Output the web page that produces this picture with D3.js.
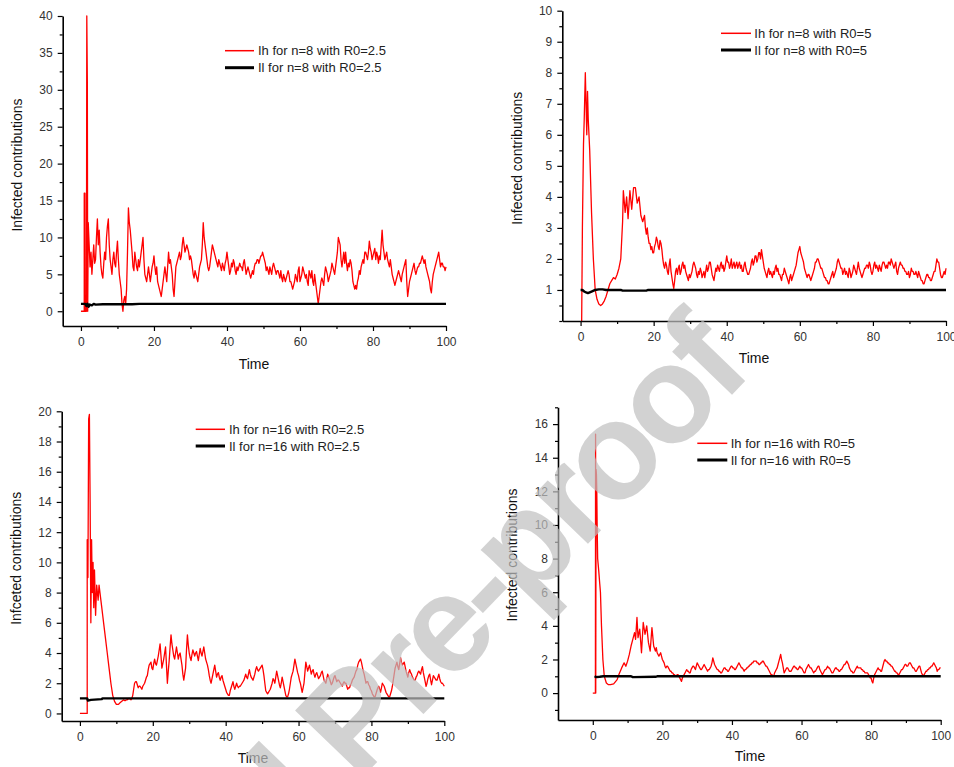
<!DOCTYPE html>
<html>
<head>
<meta charset="utf-8">
<script src="https://cdn.jsdelivr.net/npm/d3@7"></script>
<style>
  html, body { margin: 0; padding: 0; background: #fff; }
  svg { display: block; }
  text { font-family: "Liberation Sans", Arial, Helvetica, sans-serif; }
</style>
</head>
<body>
<svg id="fig" width="954" height="767"></svg>
<script>
// ---------------------------------------------------------------
// Simulated infected contributions, Ih (red) and Il (black).
// Each Ih series = an explicit [time, value] head (the early spike)
// followed by values sampled every STEP time units from bodyStart
// (one row = 5 time units).
// ---------------------------------------------------------------
const STEP = 0.25;

// n = 8, R0 = 2.5
const ihHead_n8_r25 = [[0,0],[0.9,0],[0.9,16],[1.1,16],[1.15,0],[1.5,0],[1.6,40],[1.75,31],[1.85,0],[2.0,12],[2.25,9]];
const ihBodyStart_n8_r25 = 2.5;
const ihBody_n8_r25 = [
  6,8,5,7,9,6.5,7,10,12.5,9,11,8,6,5,4.5,6.5,8,7,10,11.5,
  12.5,9,7,6,5,7,8,6.5,6,8,9.5,7,5,4,3,1,0,1.5,2,1,
  3,8,14,12,11,9.5,8,6,5.5,8,7,6,5.5,7,6,7,8,9,10,7,
  5,4.5,4,5,6,5,4,5,6,6.5,7.5,6,5,6,4,3.5,3,2.5,2,3,
  4,5,6,5,4,6,8,6.5,7,6,5,3,2,4,6,6.5,7,7.5,8,7,
  7.5,9,10,9,8,8.5,9,8.5,8,7,7.5,7,6,5,4.5,5.5,5,4.5,4,5,
  6,6.5,7,9,12,10,9,8,7,6,5.5,6,7,8,9,8.5,8,7.5,7,6.5,
  6,7,6.5,6,5.5,6.5,6,5.5,6.5,7,8,7,6,5,5.5,6.5,6,7,6.5,5.5,
  5,6,5.5,6,6.5,6,6,5.5,6.5,7,6,5,5.5,6,5.5,5,4.5,5,5.5,5,
  6,6.5,6.5,7,7,6.5,7,7.5,7.5,8,7.5,7,6.5,5.5,6,5.5,5,6,5.5,5,
  6,6.5,6,5.5,5,5.5,5.5,5,4.5,5.5,4.5,4,5,4.5,4,4.5,5,5.5,5,4,
  4,3.5,3,3.5,4,5,4.5,4,5.5,6,4,4.5,5,6,5.5,5,4.5,5,4,3.5,
  5.5,5,4.5,5.5,4,3.5,5,4,3,2,1,2,3,4,4.5,4,3.5,5,6,5.5,
  5,4,4.5,5,5.5,6.5,6,5.5,5,6,7,8,10,9.5,9,7,6,7,8,6.5,
  8,6.5,5.5,6.5,6,7,6.5,5.5,4,3.5,3,3.5,3,4,4.5,5.5,5,6,6.5,7,
  6.5,8,8,7.5,7,8,9.5,8.5,8,7,7.5,8,8.5,7,8,7.5,6.5,7.5,7,9,
  11,9,8,7,7.5,8,7,6.5,6,7,6,5,4.5,4,3.5,4,4.5,5,5.5,5,
  4.5,4,5,5.5,6,6.5,7,4,2,3,4,4.5,5,5.5,6,6.5,5.5,5,5.5,6,
  6,6.5,6.5,7,7.5,7,6.5,7,6,5.5,5,4.5,4,3,2.5,4,5,5.5,6,6.5,
  7,7.5,8,7,6,6.5,6.5,6,6,5.5,6
];
const il_n8_r25 = [[0,1],[1.2,1],[1.5,0.7],[1.8,1],[2.1,0.6],[2.4,0.9],[3,0.8],[3.5,1],[4,0.9],[6,0.95],[10,0.95],[14,0.95],[16,1],[100,1]];

// n = 8, R0 = 5
const ihHead_n8_r5 = [[0.3,0],[0.5,3],[0.8,5.7],[1,6.5],[1.3,8],[1.5,7],[1.7,6],[1.9,7.4],[2.1,6.5],[2.5,5.5],[3,3.5],[3.5,2],[4,1],[4.5,0.7],[5,0.55],[5.5,0.5],[6,0.55],[6.5,0.65],[7,0.8],[7.5,1.0],[8,1.2],[8.5,1.3],[9,1.4],[9.5,1.35],[10,1.5],[10.5,1.7],[11,2],[11.5,3.2],[11.7,4.2],[12.2,3.5],[12.6,4.0],[13,3.3],[13.5,4.2],[14,3.6],[14.5,4.3],[15,4.3],[15.5,3.8],[16,4.0],[16.5,3.4],[17,3.2]];
const ihBodyStart_n8_r5 = 17.5;
const ihBody_n8_r5 = [
  3.4,3.0,2.8,3.0,2.7,2.5,2.5,2.3,2.4,2.2,2.2,2.4,2.5,2.7,2.6,2.4,2.3,2.6,2.5,2.3,
  2.0,1.8,1.7,1.9,1.8,1.6,1.5,1.8,2.0,1.6,1.4,1.2,1.05,1.3,1.6,1.7,1.5,1.7,1.8,1.5,
  1.6,1.8,1.9,1.7,1.8,1.6,1.5,1.4,1.3,1.5,1.4,1.5,1.6,1.8,1.9,1.8,1.7,1.5,1.4,1.6,
  1.5,1.7,1.6,1.4,1.5,1.6,1.4,1.6,1.8,1.6,1.7,1.9,1.9,1.7,1.5,1.4,1.3,1.5,1.7,1.6,
  1.8,1.7,1.6,1.8,1.9,1.7,1.8,1.6,1.7,1.9,2.1,1.9,1.9,1.7,1.8,2.0,1.7,1.8,1.9,1.7,
  1.8,1.9,1.7,1.8,1.9,1.7,1.8,1.6,1.6,1.8,1.9,1.7,1.6,1.5,1.5,1.6,1.7,1.9,2.0,1.8,
  1.9,2.1,2.1,1.9,2.0,2.2,2.2,2.0,2.3,2.1,1.9,1.7,1.6,1.5,1.4,1.6,1.7,1.5,1.6,1.5,
  1.4,1.6,1.5,1.7,1.8,1.6,1.7,1.5,1.5,1.4,1.3,1.5,1.5,1.7,1.6,1.5,1.4,1.3,1.2,1.4,
  1.5,1.3,1.4,1.5,1.6,1.7,1.8,2.0,2.2,2.3,2.4,2.2,2.1,2.0,1.9,1.7,1.6,1.5,1.4,1.5,
  1.5,1.4,1.3,1.4,1.5,1.6,1.7,1.9,1.9,2.0,2.0,1.9,1.8,1.7,1.7,1.6,1.5,1.4,1.4,1.3,
  1.3,1.2,1.2,1.3,1.4,1.5,1.6,1.4,1.5,1.6,1.7,1.9,2.0,1.9,1.8,1.7,1.7,1.5,1.6,1.7,
  1.5,1.6,1.5,1.4,1.7,1.6,1.4,1.5,1.6,1.8,1.7,1.6,1.5,1.7,1.9,1.7,1.6,1.5,1.4,1.5,
  1.6,1.7,1.7,1.8,1.8,1.7,1.9,1.8,1.6,1.5,1.6,1.8,1.9,1.7,1.8,1.7,1.6,1.8,1.7,1.6,
  1.8,1.9,1.9,1.8,1.7,1.8,1.7,1.9,1.9,1.8,2.0,1.9,1.8,1.7,1.8,1.9,1.6,1.5,1.7,1.8,
  1.9,1.8,1.8,1.7,1.7,1.6,1.6,1.5,1.5,1.6,1.4,1.5,1.7,1.6,1.6,1.5,1.5,1.6,1.5,1.4,
  1.6,1.5,1.4,1.3,1.3,1.2,1.2,1.3,1.4,1.5,1.5,1.4,1.4,1.3,1.3,1.4,1.5,1.6,1.6,1.8,
  2.0,1.9,1.9,1.7,1.5,1.4,1.4,1.5,1.6,1.5,1.7
];
const il_n8_r5 = [[0,1.0],[0.5,1.0],[1,0.95],[1.5,0.92],[2,0.9],[3,0.95],[4,1.0],[5,1.02],[6,1.02],[7,1.0],[11,1.0],[11.5,0.98],[18,0.98],[18.5,1.0],[100,1.0]];

// n = 16, R0 = 2.5
const ihHead_n16_r25 = [[0,0],[2.0,0],[2.0,11.5],[2.2,9],[2.4,19.5],[2.6,19.8],[2.8,14],[3.0,6],[3.2,11.5],[3.4,8],[3.6,10],[3.8,7],[4.0,9.5],[4.3,6.5],[4.6,8.5],[5.0,7.5],[5.25,8.5]];
const ihBodyStart_n16_r25 = 5.5;
const ihBody_n16_r25 = [
  8,7.5,7,6.5,6,5.5,5,4.5,4,3.5,3,2.5,2,1.6,1.2,1.0,0.8,0.7,0.6,0.6,
  0.6,0.65,0.7,0.75,0.8,0.85,0.9,0.85,0.85,0.9,0.9,0.95,1.0,0.95,0.9,1.0,1.2,1.6,2.0,2.1,
  2.1,1.9,1.7,1.8,1.8,1.7,1.6,1.8,1.9,2.0,2.2,2.4,2.5,2.9,3.2,3.3,3.4,3.0,2.9,3.3,
  3.6,3.3,3.2,3.5,3.8,4.2,4.6,3.8,3.0,3.3,3.6,4.0,4.4,3.2,2.0,2.8,3.5,4.4,5.2,4.6,
  4.2,3.8,3.6,4.0,4.4,4.0,3.6,3.9,4.0,3.6,3.2,2.6,2.2,2.6,3.0,4.2,5.2,4.5,4.0,3.7,
  3.5,3.9,4.2,4.0,3.8,4.0,4.1,3.8,3.5,3.9,4.3,4.0,3.8,4.1,4.4,4.0,3.6,3.4,3.2,2.9,
  2.5,2.2,2.0,2.3,2.6,2.9,3.2,2.8,2.4,2.6,2.7,2.4,2.2,2.4,2.5,2.2,2.0,1.8,1.6,1.4,
  1.3,1.2,1.2,1.5,1.7,1.9,2.1,1.8,1.6,1.8,2.0,1.8,1.7,1.8,1.8,1.9,2.0,2.1,2.2,2.4,
  2.6,2.4,2.3,2.6,2.9,2.6,2.4,2.3,2.2,2.4,2.6,2.9,3.1,2.9,2.8,2.9,3.0,3.1,3.2,2.9,
  2.5,2.0,1.5,1.4,1.3,1.4,1.5,1.6,1.8,2.0,2.3,2.2,2.0,2.4,2.8,2.5,2.2,1.9,1.7,2.0,
  2.4,2.1,1.8,1.5,1.2,1.1,1.1,1.3,1.6,2.0,2.4,2.6,2.8,3.2,3.6,3.3,3.0,2.7,2.5,2.2,
  2.0,1.7,1.4,1.7,2.0,2.7,3.4,3.1,2.8,3.0,3.2,2.9,2.6,2.8,2.9,2.6,2.4,2.6,2.7,2.5,
  2.3,2.4,2.5,2.7,2.8,2.5,2.2,2.1,2.0,2.3,2.6,2.4,2.3,2.1,1.9,2.0,2.2,2.4,2.5,2.3,
  2.1,2.2,2.2,2.1,2.0,1.9,1.8,2.0,2.1,2.0,2.0,1.8,1.6,1.7,1.7,1.9,2.0,2.2,2.3,2.4,
  2.6,2.8,2.9,3.2,3.4,3.5,3.6,3.4,3.1,2.8,2.6,2.3,2.0,2.1,2.1,1.9,1.8,1.6,1.5,1.3,
  1.2,1.1,1.1,1.3,1.5,1.7,1.8,1.6,1.4,1.7,2.0,1.9,1.8,1.6,1.4,1.3,1.2,1.1,1.1,1.3,
  1.5,1.8,2.2,2.6,3.0,3.2,3.4,3.1,2.9,3.3,3.7,3.4,3.2,3.3,3.4,3.1,2.8,2.6,2.4,2.7,
  2.9,2.7,2.6,2.4,2.3,2.2,2.2,2.4,2.5,2.7,2.8,2.7,2.6,2.9,3.1,2.7,2.4,2.1,1.8,2.0,
  2.3,2.5,2.6,2.2,1.9,2.2,2.5,2.4,2.3,2.2,2.2,2.4,2.6,2.3,2.1,2.0,2.0,1.9,1.8
];
const il_n16_r25 = [[0,1.0],[2.0,1.0],[2.2,0.85],[3,0.9],[6,0.95],[6.2,1.0],[100,1.0]];

// n = 16, R0 = 5
const ihHead_n16_r5 = [[0,0],[0.75,0],[0.8,15.4],[0.85,0],[0.95,13.3],[1.05,13],[1.15,12],[1.25,10],[1.4,8],[1.7,7.3],[2.0,6.5],[2.2,6],[2.5,4],[2.9,2],[3.3,1],[3.9,0.6],[4.5,0.5],[5.1,0.5],[6,0.55],[7,0.8],[7.5,1.1],[8.3,1.5],[9,1.8],[9.5,1.6],[10,1.9],[10.5,2.3],[11,2.8],[11.5,3.2],[12,3.6],[12.3,3.2],[12.7,4.5],[13,3.3],[13.5,3.8],[14,2.4],[14.5,4.2],[15,3.5],[15.5,4.0],[16,3.0],[16.5,2.5],[17,3.9],[17.5,2.8],[18,2.5],[18.25,2.7]];
const ihBodyStart_n16_r5 = 18.5;
const ihBody_n16_r5 = [
  2.4,2.3,2.2,2.3,2.4,2.2,2.0,1.9,1.8,1.6,1.5,1.6,1.6,1.5,1.4,1.3,1.3,1.2,1.2,1.1,
  1.1,1.0,1.0,1.1,1.1,1.0,0.9,0.8,0.7,0.9,1.0,1.1,1.2,1.3,1.4,1.3,1.3,1.2,1.2,1.4,
  1.5,1.6,1.6,1.5,1.4,1.6,1.8,1.7,1.6,1.5,1.4,1.4,1.5,1.6,1.7,1.6,1.5,1.4,1.3,1.4,
  1.4,1.5,1.6,1.8,2.1,1.9,1.7,1.6,1.5,1.4,1.4,1.3,1.3,1.2,1.2,1.3,1.4,1.5,1.5,1.4,
  1.4,1.3,1.3,1.4,1.5,1.6,1.6,1.5,1.5,1.4,1.4,1.5,1.6,1.7,1.8,1.7,1.6,1.5,1.5,1.4,
  1.3,1.4,1.4,1.5,1.5,1.6,1.6,1.7,1.7,1.8,1.8,1.9,1.9,1.9,1.9,1.8,1.8,1.7,1.7,1.8,
  1.8,1.9,1.9,1.8,1.7,1.6,1.6,1.5,1.4,1.3,1.2,1.1,1.1,1.0,1.0,1.2,1.3,1.4,1.5,1.7,
  1.9,2.1,2.3,2.0,1.8,1.5,1.2,1.3,1.4,1.5,1.5,1.4,1.3,1.3,1.3,1.4,1.5,1.6,1.6,1.5,
  1.5,1.4,1.4,1.5,1.6,1.5,1.5,1.4,1.3,1.2,1.2,1.4,1.5,1.6,1.7,1.6,1.5,1.5,1.4,1.3,
  1.2,1.3,1.3,1.4,1.5,1.6,1.6,1.4,1.3,1.2,1.1,1.2,1.3,1.4,1.4,1.5,1.6,1.5,1.5,1.4,
  1.3,1.2,1.2,1.3,1.4,1.5,1.5,1.4,1.4,1.3,1.3,1.4,1.4,1.5,1.6,1.7,1.7,1.8,1.9,1.8,
  1.7,1.5,1.4,1.3,1.3,1.2,1.2,1.3,1.4,1.5,1.6,1.5,1.5,1.5,1.5,1.4,1.4,1.3,1.3,1.2,
  1.2,1.2,1.2,1.1,1.0,0.9,0.9,0.7,0.6,0.9,1.1,1.2,1.3,1.4,1.5,1.4,1.4,1.3,1.3,1.5,
  1.7,1.9,2.0,1.9,1.9,1.8,1.8,1.7,1.7,1.6,1.6,1.5,1.4,1.3,1.3,1.2,1.2,1.1,1.1,1.2,
  1.3,1.4,1.4,1.5,1.6,1.7,1.7,1.6,1.6,1.7,1.8,1.8,1.7,1.6,1.5,1.5,1.4,1.3,1.3,1.4,
  1.5,1.6,1.6,1.4,1.2,1.1,1.0,1.1,1.2,1.3,1.3,1.4,1.4,1.5,1.5,1.6,1.6,1.7,1.8,1.7,
  1.6,1.5,1.3,1.4,1.4,1.5,1.5
];
const il_n16_r5 = [[0.5,1.0],[1,0.95],[2,0.97],[3,1.0],[11,1.0],[11.5,0.95],[18,0.97],[18.5,1.0],[100,1.0]];

// Axis tick values and legend / axis texts
const xTicks = [0, 20, 40, 60, 80, 100];
const yTicks_n8_r25 = [0, 5, 10, 15, 20, 25, 30, 35, 40];
const yTicks_n8_r5 = [1, 2, 3, 4, 5, 6, 7, 8, 9, 10];
const yTicks_n16_r25 = [0, 2, 4, 6, 8, 10, 12, 14, 16, 18, 20];
const yTicks_n16_r5 = [0, 2, 4, 6, 8, 10, 12, 14, 16];
const legend_n8_r25 = ["Ih for n=8 with R0=2.5", "Il for n=8 with R0=2.5"];
const legend_n8_r5 = ["Ih for n=8 with R0=5", "Il for n=8 with R0=5"];
const legend_n16_r25 = ["Ih for n=16 with R0=2.5", "Il for n=16 with R0=2.5"];
const legend_n16_r5 = ["Ih for n=16 with R0=5", "Il for n=16 with R0=5"];
const xTitle = "Time";
const yTitles = ["Infected contributions", "Infected contributions", "Infceted contributions", "Infected contributions"];

// ---------------------------------------------------------------
function buildSeries(head, start, body) {
  return head.concat(body.map((v, i) => [start + i * STEP, v]));
}

const panels = [
  { ih: buildSeries(ihHead_n8_r25, ihBodyStart_n8_r25, ihBody_n8_r25), il: il_n8_r25,
    legend: legend_n8_r25, yTitle: yTitles[0], yTicks: yTicks_n8_r25, yMinor: 2.5,
    xDom: [-5, 100], yDom: [-2, 40],
    frame: { left: 62.7, right: 446, bottom: 326, top: 16 },
    leg: { x0: 225, x1: 254, tx: 258, y: [50.7, 67.7] },
    yt: { x: 17, y: 165 }, xt: { x: 254, y: 364 } },
  { ih: buildSeries(ihHead_n8_r5, ihBodyStart_n8_r5, ihBody_n8_r5), il: il_n8_r5,
    legend: legend_n8_r5, yTitle: yTitles[1], yTicks: yTicks_n8_r5, yMinor: 0.5,
    xDom: [-5, 100], yDom: [0, 10],
    frame: { left: 562.3, right: 946, bottom: 321, top: 10.7 },
    leg: { x0: 721, x1: 751, tx: 754.3, y: [33.3, 50] },
    yt: { x: 516.7, y: 158.3 }, xt: { x: 754, y: 357.7 } },
  { ih: buildSeries(ihHead_n16_r25, ihBodyStart_n16_r25, ihBody_n16_r25), il: il_n16_r25,
    legend: legend_n16_r25, yTitle: yTitles[2], yTicks: yTicks_n16_r25, yMinor: 1,
    xDom: [-5, 100], yDom: [-0.5, 20],
    frame: { left: 61.7, right: 444.3, bottom: 721, top: 411.3 },
    leg: { x0: 195.7, x1: 225, tx: 229, y: [429.3, 446] },
    yt: { x: 15.7, y: 558.3 }, xt: { x: 253, y: 758.3 } },
  { ih: buildSeries(ihHead_n16_r5, ihBodyStart_n16_r5, ihBody_n16_r5), il: il_n16_r5,
    legend: legend_n16_r5, yTitle: yTitles[3], yTicks: yTicks_n16_r5, yMinor: 1,
    xDom: [-10, 100], yDom: [-1.6, 17],
    frame: { left: 558, right: 940.7, bottom: 720, top: 407.3 },
    leg: { x0: 697.3, x1: 727.3, tx: 730.7, y: [443.3, 460] },
    yt: { x: 511.7, y: 555 }, xt: { x: 750, y: 755.7 } }
];

const svg = d3.select("#fig");
svg.append("rect").attr("width", 954).attr("height", 767).attr("fill", "#fff");

panels.forEach(p => {
  const f = p.frame;
  const x = d3.scaleLinear().domain(p.xDom).range([f.left, f.right]);
  const y = d3.scaleLinear().domain(p.yDom).range([f.bottom, f.top]);
  const g = svg.append("g");

  // series
  const line = d3.line().x(d => x(d[0])).y(d => y(d[1]));
  g.append("path").datum(p.ih).attr("d", line)
    .attr("fill", "none").attr("stroke", "#ff0000").attr("stroke-width", 1.3)
    .attr("stroke-linejoin", "round");
  g.append("path").datum(p.il).attr("d", line)
    .attr("fill", "none").attr("stroke", "#000").attr("stroke-width", 2.4)
    .attr("stroke-linejoin", "round");

  // minor ticks
  const xMinor = d3.range(10, 100, 20);
  const yMinorVals = d3.range(Math.ceil(p.yDom[0] / p.yMinor) * p.yMinor, p.yDom[1] + 1e-9, p.yMinor)
    .filter(v => !p.yTicks.some(t => Math.abs(t - v) < 1e-9));
  g.append("g").attr("transform", `translate(0,${f.bottom})`)
    .call(d3.axisBottom(x).tickValues(xMinor).tickSize(3).tickSizeOuter(0).tickFormat(""))
    .call(a => a.select(".domain").remove())
    .selectAll("line").attr("stroke-width", 1.2);
  g.append("g").attr("transform", `translate(${f.left},0)`)
    .call(d3.axisLeft(y).tickValues(yMinorVals).tickSize(3).tickSizeOuter(0).tickFormat(""))
    .call(a => a.select(".domain").remove())
    .selectAll("line").attr("stroke-width", 1.2);

  // major axes
  const xa = g.append("g").attr("transform", `translate(0,${f.bottom})`)
    .call(d3.axisBottom(x).tickValues(xTicks).tickSize(5).tickSizeOuter(0).tickPadding(6));
  const ya = g.append("g").attr("transform", `translate(${f.left},0)`)
    .call(d3.axisLeft(y).tickValues(p.yTicks).tickSize(5).tickSizeOuter(0).tickPadding(5));
  [xa, ya].forEach(a => {
    a.select(".domain").attr("stroke-width", 1.6);
    a.selectAll(".tick line").attr("stroke-width", 1.2);
    a.selectAll(".tick text").attr("font-size", 12).attr("fill", "#333")
      .attr("font-family", '"Liberation Sans", Arial, sans-serif');
  });

  // axis titles
  g.append("text").attr("x", p.xt.x).attr("y", p.xt.y)
    .attr("text-anchor", "middle").attr("dominant-baseline", "central")
    .attr("font-size", 14).attr("fill", "#111").text(xTitle);
  g.append("text").attr("transform", `translate(${p.yt.x},${p.yt.y}) rotate(-90)`)
    .attr("text-anchor", "middle").attr("dominant-baseline", "central")
    .attr("font-size", 14).attr("fill", "#111").text(p.yTitle);

  // legend
  const styles = [{ c: "#ff0000", w: 1.5 }, { c: "#000", w: 3 }];
  p.legend.forEach((lab, i) => {
    g.append("line").attr("x1", p.leg.x0).attr("x2", p.leg.x1)
      .attr("y1", p.leg.y[i]).attr("y2", p.leg.y[i])
      .attr("stroke", styles[i].c).attr("stroke-width", styles[i].w);
    g.append("text").attr("x", p.leg.tx).attr("y", p.leg.y[i])
      .attr("dominant-baseline", "central").attr("font-size", 13)
      .attr("fill", "#222").text(lab);
  });
});

// journal watermark across the page
const wm = svg.append("g")
  .attr("transform", "translate(357,783) rotate(-46)")
  .attr("fill", "#c0c0c0").attr("opacity", 0.7)
  .attr("font-size", 138).attr("font-weight", "bold")
  .attr("letter-spacing", -6);
wm.append("text").attr("x", 0).attr("y", 0).text("Pre-proof");
wm.append("text").attr("x", -34).attr("y", 0).attr("text-anchor", "end").text("Journal");
</script>
</body>
</html>
